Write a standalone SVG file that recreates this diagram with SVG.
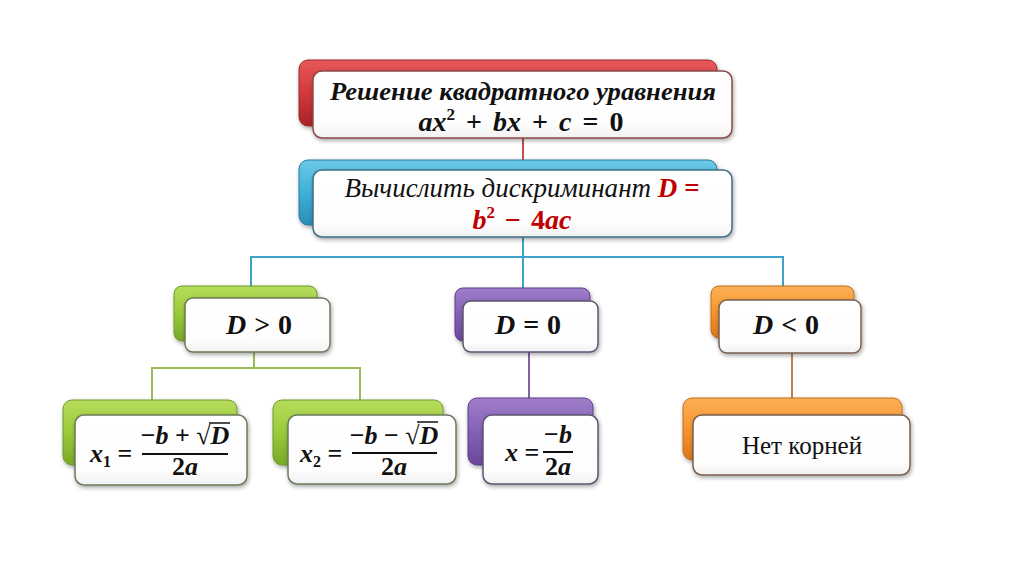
<svg xmlns="http://www.w3.org/2000/svg" width="1024" height="574" viewBox="0 0 1024 574">
<defs>
<linearGradient id="gRed" x1="0" y1="0" x2="0" y2="1"><stop offset="0" stop-color="#e8585a"/><stop offset="0.5" stop-color="#d2393c"/><stop offset="1" stop-color="#a82326"/></linearGradient>
<linearGradient id="gBlue" x1="0" y1="0" x2="0" y2="1"><stop offset="0" stop-color="#6cc8e6"/><stop offset="0.5" stop-color="#3fb0d8"/><stop offset="1" stop-color="#2a8cb4"/></linearGradient>
<linearGradient id="gGreen" x1="0" y1="0" x2="0" y2="1"><stop offset="0" stop-color="#b6dc5c"/><stop offset="0.5" stop-color="#9acb3a"/><stop offset="1" stop-color="#78a828"/></linearGradient>
<linearGradient id="gPurple" x1="0" y1="0" x2="0" y2="1"><stop offset="0" stop-color="#a07dca"/><stop offset="0.5" stop-color="#8461b6"/><stop offset="1" stop-color="#6a4898"/></linearGradient>
<linearGradient id="gOrange" x1="0" y1="0" x2="0" y2="1"><stop offset="0" stop-color="#fbb056"/><stop offset="0.5" stop-color="#f7962e"/><stop offset="1" stop-color="#d87818"/></linearGradient>
<linearGradient id="gWhite" x1="0" y1="0" x2="0" y2="1"><stop offset="0" stop-color="#ffffff"/><stop offset="0.8" stop-color="#fdfdfd"/><stop offset="1" stop-color="#f1f1f1"/></linearGradient>
<filter id="sh" x="-10%" y="-20%" width="120%" height="150%"><feDropShadow dx="1" dy="2" stdDeviation="2" flood-color="#000" flood-opacity="0.35"/></filter>
</defs>
<style>
.front{fill:url(#gWhite);stroke-width:1.5;filter:url(#sh)}
.back{stroke-width:1;filter:url(#sh)}
.t{font-family:"Liberation Serif","DejaVu Serif",serif;fill:#111;font-weight:bold;font-style:italic}
.m{font-family:"Liberation Serif","DejaVu Serif",serif;fill:#111;font-weight:bold;font-size:28px}
.f{font-size:26px}
.i{font-style:italic}
.conn line{stroke-width:2;fill:none}
.bar{stroke:#111;stroke-width:2}
</style>
<rect width="1024" height="574" fill="#ffffff"/>

<g id="connectors" class="conn">
<line x1="523" y1="137" x2="523" y2="163" stroke="#c0504d"/>
<line x1="523" y1="237" x2="523" y2="257" stroke="#3ea3c8"/>
<line x1="251" y1="257" x2="783" y2="257" stroke="#3ea3c8"/>
<line x1="251" y1="256" x2="251" y2="290" stroke="#3ea3c8"/>
<line x1="523" y1="256" x2="523" y2="290" stroke="#3ea3c8"/>
<line x1="783" y1="256" x2="783" y2="290" stroke="#3ea3c8"/>
<line x1="254" y1="352" x2="254" y2="368" stroke="#9bbb59"/>
<line x1="152" y1="368" x2="360" y2="368" stroke="#9bbb59"/>
<line x1="152" y1="367" x2="152" y2="402" stroke="#9bbb59"/>
<line x1="360" y1="367" x2="360" y2="402" stroke="#9bbb59"/>
<line x1="529" y1="352" x2="529" y2="402" stroke="#8064a2"/>
<line x1="792" y1="353" x2="792" y2="400" stroke="#c0804a"/>
</g>

<g id="node-title">
<rect class="back" x="299" y="60" width="418" height="66" rx="9" fill="url(#gRed)" stroke="#9a2a2a"/>
<rect class="front" x="313" y="71" width="419" height="67" rx="9" stroke="#8a4a4a"/>
<text class="t" x="523" y="100" font-size="25" text-anchor="middle" textLength="386" lengthAdjust="spacingAndGlyphs">Решение квадратного уравнения</text>
<text class="m" x="521" y="131" text-anchor="middle" word-spacing="4"><tspan class="i">ax</tspan><tspan font-size="17" dy="-11">2</tspan><tspan dy="11"> + </tspan><tspan class="i">bx</tspan><tspan> + </tspan><tspan class="i">c</tspan><tspan> = 0</tspan></text>
</g>

<g id="node-discriminant">
<rect class="back" x="299" y="160" width="418" height="65" rx="9" fill="url(#gBlue)" stroke="#2a7aa0"/>
<rect class="front" x="313" y="170" width="419" height="67" rx="9" stroke="#3a6f85"/>
<text x="522" y="197" text-anchor="middle" font-family="'Liberation Serif','DejaVu Serif',serif" font-size="27" font-style="italic" fill="#111" textLength="355" lengthAdjust="spacingAndGlyphs">Вычислить дискриминант <tspan font-weight="bold" fill="#c00000">D =</tspan></text>
<text class="m" x="522" y="229" text-anchor="middle" word-spacing="3" style="fill:#c00000"><tspan class="i">b</tspan><tspan font-size="17" dy="-11">2</tspan><tspan dy="11"> − 4</tspan><tspan class="i">ac</tspan></text>
</g>

<g id="node-dpos">
<rect class="back" x="174" y="286" width="143" height="55" rx="8" fill="url(#gGreen)" stroke="#6f9a2a"/>
<rect class="front" x="185" y="298" width="145" height="54" rx="8" stroke="#6a7a5a"/>
<text class="m" x="259" y="334" text-anchor="middle" word-spacing="1"><tspan class="i">D</tspan> &gt; 0</text>
</g>

<g id="node-dzero">
<rect class="back" x="455" y="288" width="135" height="53" rx="8" fill="url(#gPurple)" stroke="#5a3e88"/>
<rect class="front" x="463" y="301" width="135" height="51" rx="8" stroke="#5e5470"/>
<text class="m" x="528" y="334" text-anchor="middle" word-spacing="1"><tspan class="i">D</tspan> = 0</text>
</g>

<g id="node-dneg">
<rect class="back" x="711" y="286" width="143" height="52" rx="8" fill="url(#gOrange)" stroke="#c06f1a"/>
<rect class="front" x="719" y="300" width="142" height="53" rx="8" stroke="#7a6050"/>
<text class="m" x="786" y="334" text-anchor="middle" word-spacing="1"><tspan class="i">D</tspan> &lt; 0</text>
</g>

<g id="node-x1">
<rect class="back" x="63" y="400" width="174" height="65" rx="9" fill="url(#gGreen)" stroke="#6f9a2a"/>
<rect class="front" x="75" y="415" width="172" height="70" rx="9" stroke="#6a7a5a"/>
<text class="m f" x="90" y="462"><tspan class="i">x</tspan><tspan font-size="16" dy="5">1</tspan><tspan dy="-5"> =</tspan></text>
<text class="m f" x="185" y="444" text-anchor="middle">−<tspan class="i">b</tspan> + √<tspan class="i">D</tspan></text>
<line class="bar" x1="142" y1="454" x2="228" y2="454"/>
<line x1="209" y1="423" x2="230" y2="423" stroke="#111" stroke-width="1.5"/>
<text class="m f" x="185" y="475" text-anchor="middle">2<tspan class="i">a</tspan></text>
</g>

<g id="node-x2">
<rect class="back" x="273" y="400" width="170" height="65" rx="9" fill="url(#gGreen)" stroke="#6f9a2a"/>
<rect class="front" x="288" y="415" width="168" height="69" rx="9" stroke="#6a7a5a"/>
<text class="m f" x="300" y="462"><tspan class="i">x</tspan><tspan font-size="16" dy="5">2</tspan><tspan dy="-5"> =</tspan></text>
<text class="m f" x="394" y="444" text-anchor="middle">−<tspan class="i">b</tspan> − √<tspan class="i">D</tspan></text>
<line class="bar" x1="352" y1="453" x2="437" y2="453"/>
<line x1="417" y1="422" x2="438" y2="422" stroke="#111" stroke-width="1.5"/>
<text class="m f" x="394" y="475" text-anchor="middle">2<tspan class="i">a</tspan></text>
</g>

<g id="node-x">
<rect class="back" x="468" y="398" width="125" height="67" rx="9" fill="url(#gPurple)" stroke="#5a3e88"/>
<rect class="front" x="483" y="415" width="115" height="69" rx="9" stroke="#5e5470"/>
<text class="m f" x="505" y="461"><tspan class="i">x</tspan> =</text>
<text class="m f" x="558" y="443" text-anchor="middle">−<tspan class="i">b</tspan></text>
<line class="bar" x1="543" y1="452" x2="573" y2="452"/>
<text class="m f" x="558" y="475" text-anchor="middle">2<tspan class="i">a</tspan></text>
</g>

<g id="node-noroots">
<rect class="back" x="683" y="398" width="219" height="62" rx="9" fill="url(#gOrange)" stroke="#c06f1a"/>
<rect class="front" x="693" y="415" width="217" height="60" rx="9" stroke="#7a6050"/>
<text x="802" y="454" text-anchor="middle" font-family="'Liberation Serif','DejaVu Serif',serif" font-size="25" fill="#111">Нет корней</text>
</g>
</svg>
